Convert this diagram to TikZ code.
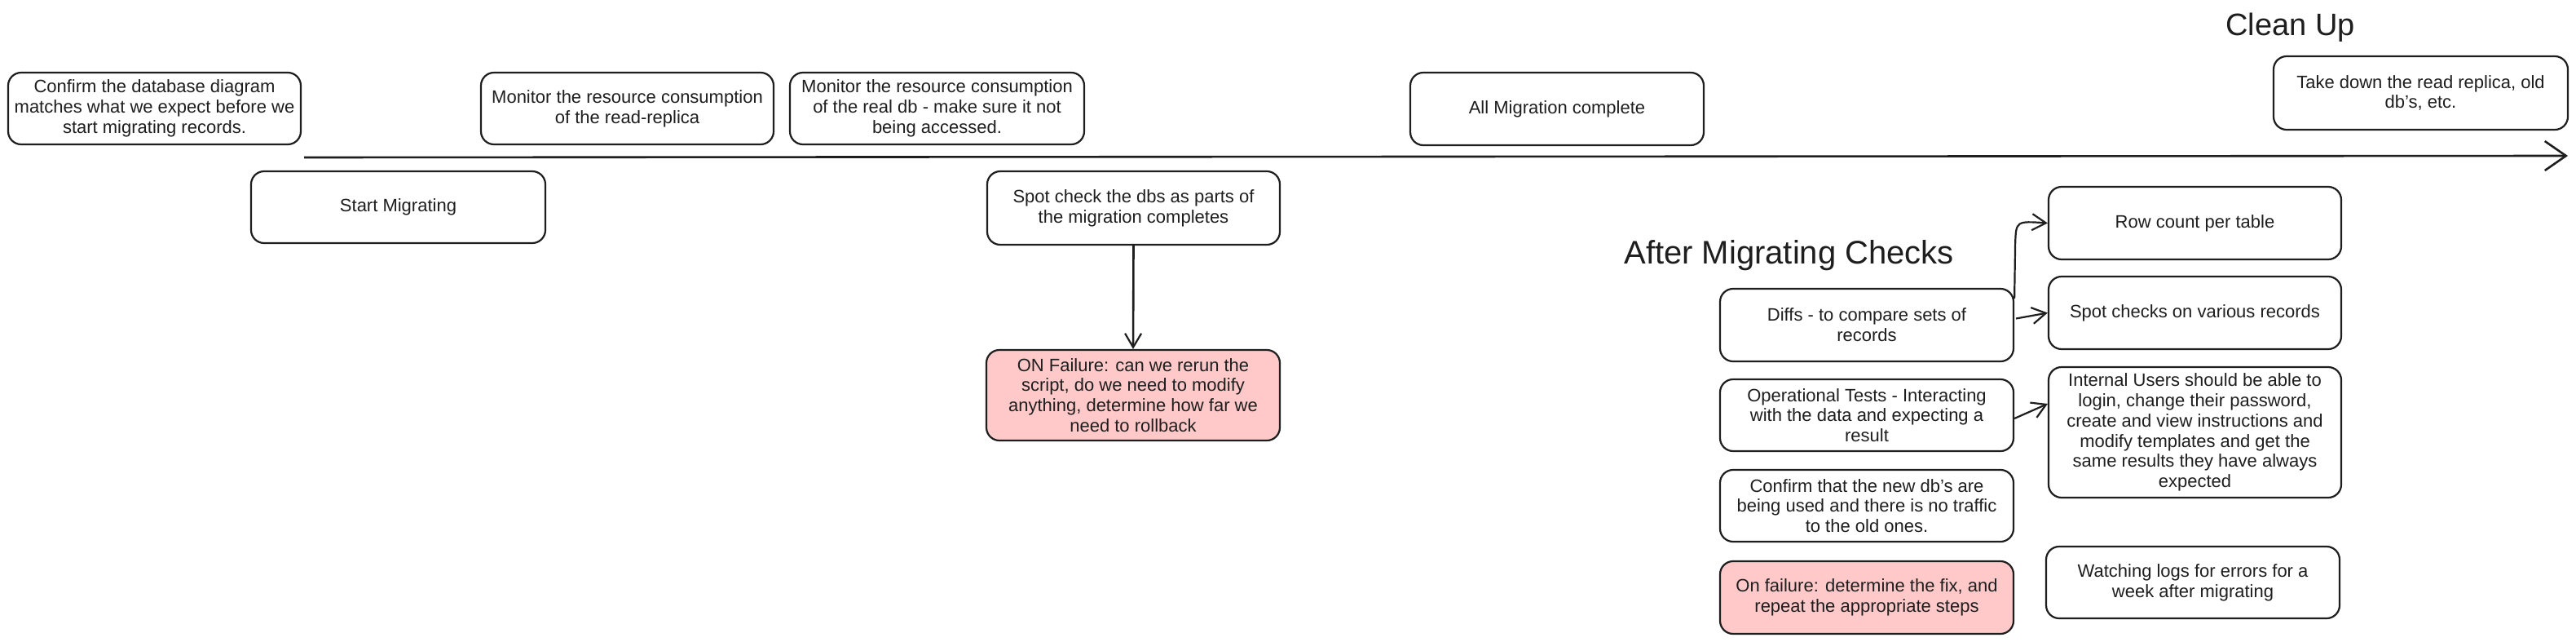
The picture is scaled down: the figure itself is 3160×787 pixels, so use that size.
\documentclass[tikz,border=0pt]{standalone}
\usepackage{fontspec}
\setmainfont{Liberation Sans}
\usetikzlibrary{arrows.meta,calc}
\definecolor{ink}{HTML}{1E1E1E}
\definecolor{redfill}{HTML}{FFC9C9}
\begin{document}
\begin{tikzpicture}[x=0.5pt,y=-0.5pt,
  box/.style={draw=ink, line width=1.1pt, rounded corners=8pt, fill=white,
    align=center, inner sep=2pt, minimum width=180pt, minimum height=44pt,
    font=\fontsize{11}{12.4}\selectfont, text=ink},
  redbox/.style={box, fill=redfill},
  title/.style={font=\fontsize{19}{22}\selectfont, text=ink, inner sep=0pt, anchor=base west},
  arr/.style={draw=ink, line width=1.1pt, -{Straight Barb[length=8.5pt,width=10pt,line width=1.1pt]}},
  bigarr/.style={draw=ink, line width=1.3pt, -{Straight Barb[length=13pt,width=18pt,line width=1.3pt]}}
]
\useasboundingbox (0,0) rectangle (3160,787);
\fill[white] (0,0) rectangle (3160,787);

% timeline
\coordinate (tl0) at (373,193);
\coordinate (tl1) at (3150,191);
\draw[bigarr] (tl0) -- (tl1);

% top row
\node[box, minimum width=179.5pt] (confirm) at (189.5,133) {Confirm the database diagram\\matches what we expect before we\\start migrating records.};
\node[box, minimum width=179.5pt] (monrr) at (769.5,133) {Monitor the resource consumption\\of the read-replica};
\node[box, minimum width=180.5pt] (monreal) at (1149.5,133) {Monitor the resource consumption\\of the real db - make sure it not\\being accessed.};
\node[box, minimum width=180pt, minimum height=44.5pt] (allmig) at (1910,133.5) {All Migration complete};
\node[box, minimum width=180.5pt, minimum height=45pt] (takedown) at (2969.5,114) {Take down the read replica, old\\db's, etc.};

% below timeline
\node[box, minimum width=180.5pt] (start) at (488.5,254) {Start Migrating};
\node[box, minimum width=179.5pt, minimum height=45pt] (spot) at (1390.5,255) {Spot check the dbs as parts of\\the migration completes};
\node[redbox, minimum width=180pt, minimum height=55.5pt] (fail) at (1390,484.5) {ON Failure: can we rerun the\\script, do we need to modify\\anything, determine how far we\\need to rollback};
\draw[arr, line width=1.3pt] (spot.south) -- (fail.north);

% titles
\node[title] (cleanup) at (2730,43) {Clean Up};
\node[title, font=\fontsize{20}{23}\selectfont] (after) at (1992,323) {After Migrating Checks};

% after migrating checks, left column
\node[box, minimum height=44.5pt] (diffs) at (2290,398.5) {Diffs - to compare sets of\\records};
\node[box] (oper) at (2290,509) {Operational Tests - Interacting\\with the data and expecting a\\result};
\node[box] (confnew) at (2290,620) {Confirm that the new db's are\\being used and there is no traffic\\to the old ones.};
\node[redbox, minimum height=44.5pt] (onfail2) at (2290,732.5) {On failure: determine the fix, and\\repeat the appropriate steps};

% right column
\node[box, minimum width=179.5pt, minimum height=44.5pt] (row) at (2692.5,273.5) {Row count per table};
\node[box, minimum width=179.5pt, minimum height=44.5pt] (spotc) at (2692.5,383.5) {Spot checks on various records};
\node[box, minimum width=179.5pt, minimum height=80pt] (internal) at (2692.5,530) {Internal Users should be able to\\login, change their password,\\create and view instructions and\\modify templates and get the\\same results they have always\\expected};
\node[box] (watch) at (2690,714) {Watching logs for errors for a\\week after migrating};

% connectors
\draw[arr] ($(diffs.north east)+(0,13)$) -- ($(diffs.north east)+(1,-54)$) .. controls ($(diffs.north east)+(2,-82)$) .. (row.west);
\draw[arr] ($(diffs.east)+(2,-8)$) -- (spotc.west);
\draw[arr] ($(oper.east)+(0,4)$) -- ($(internal.west)+(0,-35)$);
\end{tikzpicture}
\end{document}
